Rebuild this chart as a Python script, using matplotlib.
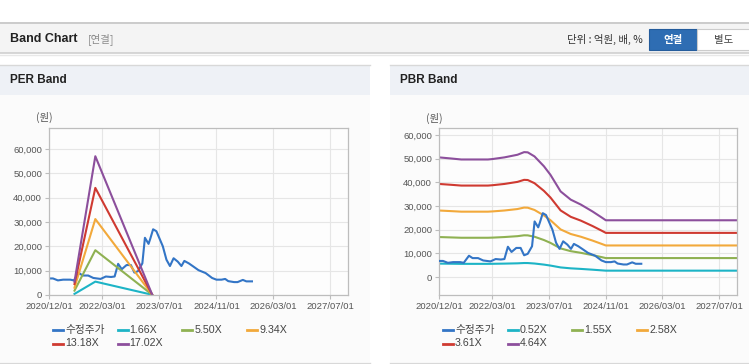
import matplotlib
matplotlib.use('Agg')
import matplotlib.pyplot as plt
import matplotlib.dates as mdates
import matplotlib.ticker as mticker
from matplotlib.patches import Rectangle
from matplotlib.lines import Line2D
import pandas as pd

FONT = ['Liberation Sans', 'Noto Sans CJK KR']
KFONT = ['Noto Sans CJK KR', 'Liberation Sans']

# --- data ---
price_dates = ['2020-12-01', '2021-01-04', '2021-02-15', '2021-04-01', '2021-06-01', '2021-07-01',
               '2021-08-15', '2021-09-15', '2021-11-01', '2021-12-15', '2022-02-15', '2022-04-01',
               '2022-05-15', '2022-06-15', '2022-07-15', '2022-08-15', '2022-09-25', '2022-11-01',
               '2022-12-01', '2023-01-01', '2023-02-07', '2023-03-01', '2023-04-01', '2023-04-15',
               '2023-05-10', '2023-06-07', '2023-07-01', '2023-08-01', '2023-09-01', '2023-10-01',
               '2023-11-01', '2023-12-07', '2024-01-07', '2024-02-01', '2024-03-10', '2024-04-15',
               '2024-06-01', '2024-08-01', '2024-09-25', '2024-11-01', '2024-12-15', '2025-01-15',
               '2025-02-10', '2025-04-01', '2025-05-01', '2025-06-15', '2025-07-15', '2025-09-01']
price = [6800, 6800, 6000, 6300, 6300, 6000,
         9000, 8000, 8000, 7000, 6600, 7600,
         7400, 7600, 12800, 10600, 12300, 12300,
         9200, 9800, 13000, 23500, 21000, 23000,
         27000, 26200, 23500, 20000, 14500, 11900,
         15100, 13700, 11900, 14000, 13000, 11800,
         10200, 9000, 7000, 6300, 6300, 6600,
         5700, 5300, 5300, 6200, 5600, 5600]

per_dates = ['2021-07-07', '2022-01-01', '2023-05-01']
per_labels = ['1.66X', '5.50X', '9.34X', '13.18X', '17.02X']
per_166 = [450, 5500, 100]
per_550 = [1800, 18400, 150]
per_934 = [3000, 31200, 200]
per_1318 = [4500, 44000, 250]
per_1702 = [5500, 57000, 300]

pbr_dates = ['2020-12-01', '2021-03-15', '2021-06-10', '2022-01-25', '2022-03-05', '2022-06-15',
             '2022-10-05', '2022-12-01', '2023-01-01', '2023-02-28', '2023-05-20', '2023-07-15',
             '2023-10-10', '2024-01-05', '2024-04-01', '2024-07-10', '2024-09-20', '2024-11-01',
             '2027-11-28']
pbr_labels = ['0.52X', '1.55X', '2.58X', '3.61X', '4.64X']
pbr_052 = [5670, 5620, 5570, 5570, 5590, 5670, 5790, 5920, 5910, 5710, 5250, 4840,
           4060, 3670, 3430, 3100, 2840, 2690, 2690]
pbr_155 = [16900, 16740, 16600, 16600, 16660, 16900, 17270, 17640, 17610, 17030, 15640, 14430,
           12090, 10930, 10230, 9250, 8480, 8010, 8010]
pbr_258 = [28120, 27860, 27630, 27630, 27740, 28120, 28740, 29360, 29310, 28350, 26030, 24020,
           20120, 18190, 17030, 15400, 14110, 13340, 13340]
pbr_361 = [39350, 38990, 38660, 38660, 38810, 39350, 40220, 41080, 41010, 39670, 36420, 33610,
           28160, 25450, 23830, 21550, 19750, 18660, 18660]
pbr_464 = [50580, 50110, 49690, 49690, 49880, 50580, 51690, 52800, 52710, 50990, 46820, 43200,
           36190, 32710, 30620, 27700, 25380, 23990, 23990]

tick_dates = ['2020-12-01', '2022-03-01', '2023-07-01', '2024-11-01', '2026-03-01', '2027-07-01']
yticks = [0, 10000, 20000, 30000, 40000, 50000, 60000]

colors = ['#3375c6', '#1db4c6', '#8fb152', '#f2a93b', '#cf3a31', '#8c4f9c']

# --- figure and background ---
W, H = 749, 364
fig = plt.figure(figsize=(W / 100, H / 100), dpi=100)


def fx(x):
    return x / W


def fy(y):
    return 1 - y / H


def box(x0, y0, x1, y1, fc, ec='none', lw=0, z=-10):
    fig.add_artist(Rectangle((fx(x0), fy(y1)), fx(x1) - fx(x0), fy(y0) - fy(y1),
                             transform=fig.transFigure, fc=fc, ec=ec, lw=lw, zorder=z))


def hline(x0, x1, y, color, lw=1.0):
    fig.add_artist(Line2D([fx(x0), fx(x1)], [fy(y), fy(y)], transform=fig.transFigure,
                          color=color, lw=lw, zorder=-5))


# top header
box(0, 22, W, 53, '#f4f4f4')
hline(0, W, 22.5, '#c4c4c4', 1.2)
hline(0, W, 53, '#cfcfcf', 1.2)
hline(0, W, 54.5, '#e8e8e8', 1.0)
fig.text(fx(10), fy(39), 'Band Chart', fontsize=9, fontweight='bold', family=FONT,
         color='#222222', va='center', ha='left')
fig.text(fx(88), fy(39), '[연결]', fontsize=7.5, family=KFONT, color='#8a8a8a',
         va='center', ha='left')
fig.text(fx(643), fy(39), '단위 : 억원, 배, %', fontsize=7.5, family=KFONT, color='#333333',
         va='center', ha='right')
box(649, 29, 697, 50, '#2e6db3', ec='#245c9c', lw=0.8)
box(697, 29, 752, 50, '#ffffff', ec='#cccccc', lw=0.8)
fig.text(fx(673), fy(39.5), '연결', fontsize=7.5, family=KFONT, color='white',
         fontweight='bold', va='center', ha='center')
fig.text(fx(724), fy(39.5), '별도', fontsize=7.5, family=KFONT, color='#444444',
         va='center', ha='center')

# panels
for px0, px1, title in [(0, 370, 'PER Band'), (390, W, 'PBR Band')]:
    box(px0, 95, px1, 362, '#fbfbfb')
    box(px0, 65, px1, 95, '#eef1f6')
    hline(px0, px1, 64.5, '#d8d8d8', 1.0)
    hline(px0, px1, 362.5, '#d8d8d8', 1.0)
    fig.text(fx(px0 + 10), fy(80), title, fontsize=8.5, fontweight='bold', family=FONT,
             color='#222222', va='center', ha='left')

# --- axes ---
ax1 = fig.add_axes([fx(49), fy(295), fx(348) - fx(49), fy(128) - fy(295)])
ax2 = fig.add_axes([fx(439), fy(295), fx(737) - fx(439), fy(128) - fy(295)])

pdates = pd.to_datetime(price_dates)

ax1.plot(pdates, price, color=colors[0], lw=1.5)
for vals, c in zip([per_166, per_550, per_934, per_1318, per_1702], colors[1:]):
    ax1.plot(pd.to_datetime(per_dates), vals, color=c, lw=1.5)
ax1.set_ylim(0, 68600)

ax2.plot(pdates, price, color=colors[0], lw=1.5, zorder=3)
for vals, c in zip([pbr_052, pbr_155, pbr_258, pbr_361, pbr_464], colors[1:]):
    ax2.plot(pd.to_datetime(pbr_dates), vals, color=c, lw=1.5, zorder=2)
ax2.set_ylim(-7600, 63000)

for ax in (ax1, ax2):
    ax.set_facecolor('#fdfdfd')
    ax.set_xlim(pd.Timestamp('2020-12-01'), pd.Timestamp('2027-12-01'))
    ax.set_xticks(pd.to_datetime(tick_dates))
    ax.xaxis.set_major_formatter(mdates.DateFormatter('%Y/%m/%d'))
    ax.set_yticks(yticks)
    ax.yaxis.set_major_formatter(mticker.FuncFormatter(lambda v, p: f'{int(v):,}'))
    ax.grid(True, color='#e6e6e6', lw=0.8)
    ax.set_axisbelow(True)
    for s in ax.spines.values():
        s.set_color('#bdbdbd')
        s.set_linewidth(0.9)
    ax.tick_params(axis='both', length=3, width=0.8, color='#bdbdbd', pad=2,
                   labelsize=6.8, labelcolor='#555555')
    for lab in ax.get_xticklabels() + ax.get_yticklabels():
        lab.set_family(FONT)

fig.text(fx(44), fy(117), '(원)', fontsize=7.5, family=KFONT, color='#555555',
         ha='center', va='center')
fig.text(fx(434), fy(118), '(원)', fontsize=7.5, family=KFONT, color='#555555',
         ha='center', va='center')


# --- legends ---
def legend(x0, labels):
    for i, (lab, c) in enumerate(zip(labels, colors)):
        row, col = divmod(i, 4)
        x = x0 + col * 64.7
        y = 330 + row * 13.5
        fig.add_artist(Line2D([fx(x), fx(x + 10)], [fy(y), fy(y)], transform=fig.transFigure,
                              color=c, lw=2))
        fig.text(fx(x + 12), fy(y), lab, fontsize=7.7, family=FONT, color='#444444',
                 va='center', ha='left')


legend(53, ['수정주가'] + per_labels)
legend(443, ['수정주가'] + pbr_labels)

fig.savefig('out.png', dpi=100)
